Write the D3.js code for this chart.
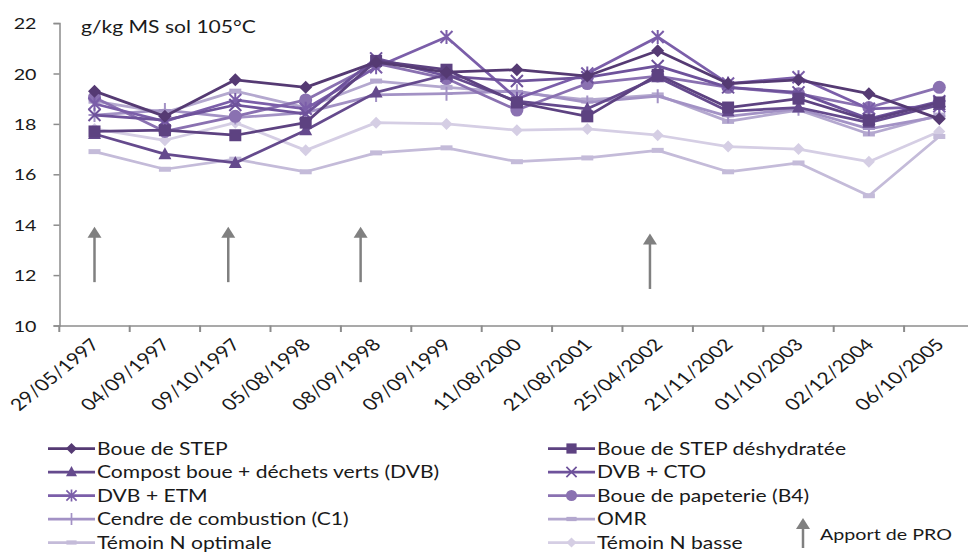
<!DOCTYPE html>
<html>
<head>
<meta charset="utf-8">
<script src="https://cdn.jsdelivr.net/npm/d3@7"></script>
<style>
  html, body { margin: 0; padding: 0; background: #fff; }
  svg { display: block; }
  text { font-family: Lato, "Open Sans", sans-serif; fill: #1a1a1a; }
</style>
</head>
<body>
<svg id="chart" width="968" height="552"></svg>
<script>
// Sampling dates (x categories)
const dates = ["29/05/1997", "04/09/1997", "09/10/1997", "05/08/1998", "08/09/1998",
  "09/09/1999", "11/08/2000", "21/08/2001", "25/04/2002", "21/11/2002",
  "01/10/2003", "02/12/2004", "06/10/2005"];

// Soil content per treatment, g/kg dry soil (105 °C)
const boueStep        = [19.3, 18.3, 19.75, 19.45, 20.45, 20.05, 20.15, 19.9, 20.9, 19.6, 19.75, 19.2, 18.2];
const boueStepDeshyd  = [17.7, 17.75, 17.55, 18.05, 20.5, 20.15, 18.85, 18.3, 19.95, 18.65, 19.0, 18.15, 18.85];
const compostDvb      = [17.6, 16.8, 16.45, 17.75, 19.25, 19.95, 18.9, 18.6, 19.85, 18.5, 18.65, 18.05, 18.75];
const dvbCto          = [18.35, 18.15, 18.75, 18.4, 20.6, 19.9, 19.7, 19.85, 20.3, 19.45, 19.25, 18.2, 18.9];
const dvbEtm          = [18.8, 18.1, 18.95, 18.6, 20.25, 21.45, 19.0, 20.0, 21.45, 19.6, 19.85, 18.6, 18.7];
const bouePapeterie   = [19.05, 17.7, 18.3, 18.95, 20.4, 19.8, 18.55, 19.6, 19.9, 19.45, 19.2, 18.65, 19.45];
const cendre          = [18.35, 18.55, 18.25, 18.45, 19.15, 19.2, 19.3, 18.85, 19.1, 18.3, 18.6, 17.8, 18.3];
const omr             = [18.9, 18.45, 19.3, 18.65, 19.7, 19.45, 19.25, 18.95, 19.15, 18.1, 18.55, 17.6, 18.35];
const temoinOptimale  = [16.9, 16.2, 16.6, 16.1, 16.85, 17.05, 16.5, 16.65, 16.95, 16.1, 16.45, 15.15, 17.5];
const temoinBasse     = [17.8, 17.35, 18.05, 16.95, 18.05, 18.0, 17.75, 17.8, 17.55, 17.1, 17.0, 16.5, 17.7];

const yTicks = [10, 12, 14, 16, 18, 20, 22];
const unitLabel = "g/kg MS sol 105°C";
const apportLabel = "Apport de PRO";
// Organic product applications: position on the date axis (category index) and arrow span (y units)
const apportPos  = [0, 1.9, 3.78, 7.89];
const apportFrom = [11.72, 11.72, 11.72, 11.45];
const apportTo   = [13.92, 13.92, 13.92, 13.65];

const series = [
  { name: "Boue de STEP",                      values: boueStep,       color: "#553a73", marker: "diamond" },
  { name: "Boue de STEP déshydratée",          values: boueStepDeshyd, color: "#5d4281", marker: "square" },
  { name: "Compost boue + déchets verts (DVB)", values: compostDvb,    color: "#654a8d", marker: "triangle" },
  { name: "DVB + CTO",                         values: dvbCto,         color: "#6e529b", marker: "times" },
  { name: "DVB + ETM",                         values: dvbEtm,         color: "#7b5ea9", marker: "asterisk" },
  { name: "Boue de papeterie (B4)",            values: bouePapeterie,  color: "#8a71b1", marker: "circle" },
  { name: "Cendre de combustion (C1)",         values: cendre,         color: "#a392c5", marker: "plus" },
  { name: "OMR",                               values: omr,            color: "#b4a8cf", marker: "dash" },
  { name: "Témoin N optimale",                 values: temoinOptimale, color: "#c4bbd9", marker: "dash" },
  { name: "Témoin N basse",                    values: temoinBasse,    color: "#d5cee4", marker: "diamondSmall" }
];

const SX = 1.27;          // horizontal stretch of the lettering
const FONT = 16.6;
const svg = d3.select("#chart");

const x = d3.scaleBand().domain(dates).range([59.3, 974.5]).paddingInner(0).paddingOuter(0);
const y = d3.scaleLinear().domain([10, 22]).range([325.5, 23.1]);
const cx = d => x(d) + x.bandwidth() / 2;

function label(g, px, py, str, anchor, size) {
  return g.append("text")
    .attr("transform", `translate(${px},${py}) scale(${SX},1)`)
    .attr("text-anchor", anchor || "start")
    .attr("font-size", size || FONT)
    .text(str);
}

// ---- axes ----
const axisColor = "#8c8c8c";
const yAxis = svg.append("g")
  .attr("transform", "translate(59.5,0)")
  .call(d3.axisLeft(y).tickValues(yTicks).tickSize(6).tickPadding(0).tickFormat(() => ""));
yAxis.select(".domain").attr("stroke", axisColor).attr("stroke-width", 1.5);
yAxis.selectAll(".tick line").attr("stroke", axisColor).attr("stroke-width", 1.5);
yAxis.selectAll(".tick").each(function(v) {
  label(d3.select(this), -23, 5.5, String(v), "end", 15.5);
});

const xAxis = svg.append("g")
  .attr("transform", "translate(0,325.5)")
  .call(d3.axisBottom(x).tickSize(0).tickFormat(() => ""));
xAxis.select(".domain").attr("stroke", axisColor).attr("stroke-width", 1.5);
// category boundary ticks
xAxis.selectAll("line.boundary")
  .data(dates)
  .join("line")
  .attr("class", "boundary")
  .attr("x1", d => x(d)).attr("x2", d => x(d))
  .attr("y1", 0).attr("y2", 6.5)
  .attr("stroke", axisColor).attr("stroke-width", 2);
// rotated date labels
xAxis.selectAll("text.date")
  .data(dates)
  .join("text")
  .attr("class", "date")
  .attr("text-anchor", "end")
  .attr("font-size", FONT)
  .attr("transform", d => `translate(${cx(d) + 6},${20}) scale(${SX},1) rotate(-46)`)
  .text(d => d);

// unit label
label(svg, 81, 33, unitLabel);

// ---- markers ----
function drawMarker(g, type, color, px, py, legend) {
  const s = legend ? 0.85 : 1;
  const m = g.append("g").attr("transform", `translate(${px},${py}) scale(${s})`);
  switch (type) {
    case "diamond":
      m.append("path").attr("d", "M0,-6.5L6.5,0L0,6.5L-6.5,0Z").attr("fill", color); break;
    case "diamondSmall":
      m.append("path").attr("d", "M0,-6L6,0L0,6L-6,0Z").attr("fill", color); break;
    case "square":
      m.append("rect").attr("x", -6).attr("y", -6).attr("width", 12).attr("height", 12).attr("fill", color); break;
    case "triangle":
      m.append("path").attr("d", "M0,-7L6.5,5L-6.5,5Z").attr("fill", color); break;
    case "circle":
      m.append("circle").attr("r", 6.5).attr("fill", color); break;
    case "times":
      m.append("path").attr("d", "M-6,-6L6,6M-6,6L6,-6").attr("stroke", color).attr("stroke-width", 2); break;
    case "asterisk":
      m.append("path").attr("d", "M-6,-6L6,6M-6,6L6,-6M0,-7L0,7").attr("stroke", color).attr("stroke-width", 2); break;
    case "plus":
      m.append("path").attr("d", "M0,-7L0,7M-6,0L6,0").attr("stroke", color).attr("stroke-width", 2); break;
    case "dash":
      m.append("rect").attr("x", -6).attr("y", -2.5).attr("width", 12).attr("height", 5).attr("fill", color); break;
  }
}

// ---- series lines ----
const line = d3.line().x((v, i) => cx(dates[i])).y(v => y(v));
const plot = svg.append("g");
series.slice().reverse().forEach(s => {
  const g = plot.append("g");
  g.append("path").attr("d", line(s.values))
    .attr("fill", "none").attr("stroke", s.color)
    .attr("stroke-width", 2.75).attr("stroke-linejoin", "round");
  s.values.forEach((v, i) => drawMarker(g, s.marker, s.color, cx(dates[i]), y(v), false));
});

// ---- application arrows ----
const arrowColor = "#808080";
function arrow(g, px, y0, y1) {
  g.append("line").attr("x1", px).attr("x2", px).attr("y1", y0).attr("y2", y1 + 9)
    .attr("stroke", arrowColor).attr("stroke-width", 2.5);
  g.append("path").attr("d", `M${px},${y1}L${px + 7},${y1 + 11}L${px - 7},${y1 + 11}Z`).attr("fill", arrowColor);
}
const arrowsG = svg.append("g");
apportPos.forEach((p, i) => {
  const px = cx(dates[0]) + p * x.step();
  arrow(arrowsG, px, y(apportFrom[i]), y(apportTo[i]));
});

// ---- legend ----
const legend = svg.append("g");
const rowY = [448.5, 472, 495.5, 519, 542.5];
series.forEach((s, i) => {
  const col = i % 2, row = Math.floor(i / 2);
  const x0 = col === 0 ? 48 : 548, x1 = col === 0 ? 95 : 595;
  const ly = rowY[row];
  legend.append("line").attr("x1", x0).attr("x2", x1).attr("y1", ly).attr("y2", ly)
    .attr("stroke", s.color).attr("stroke-width", 2.75);
  drawMarker(legend, s.marker, s.color, (x0 + x1) / 2, ly, true);
  label(legend, x1 + 2, ly + 6, s.name);
});
arrow(legend, 803, 548, 518);
label(legend, 820, 540, apportLabel, "start", 15.5);
</script>
</body>
</html>
